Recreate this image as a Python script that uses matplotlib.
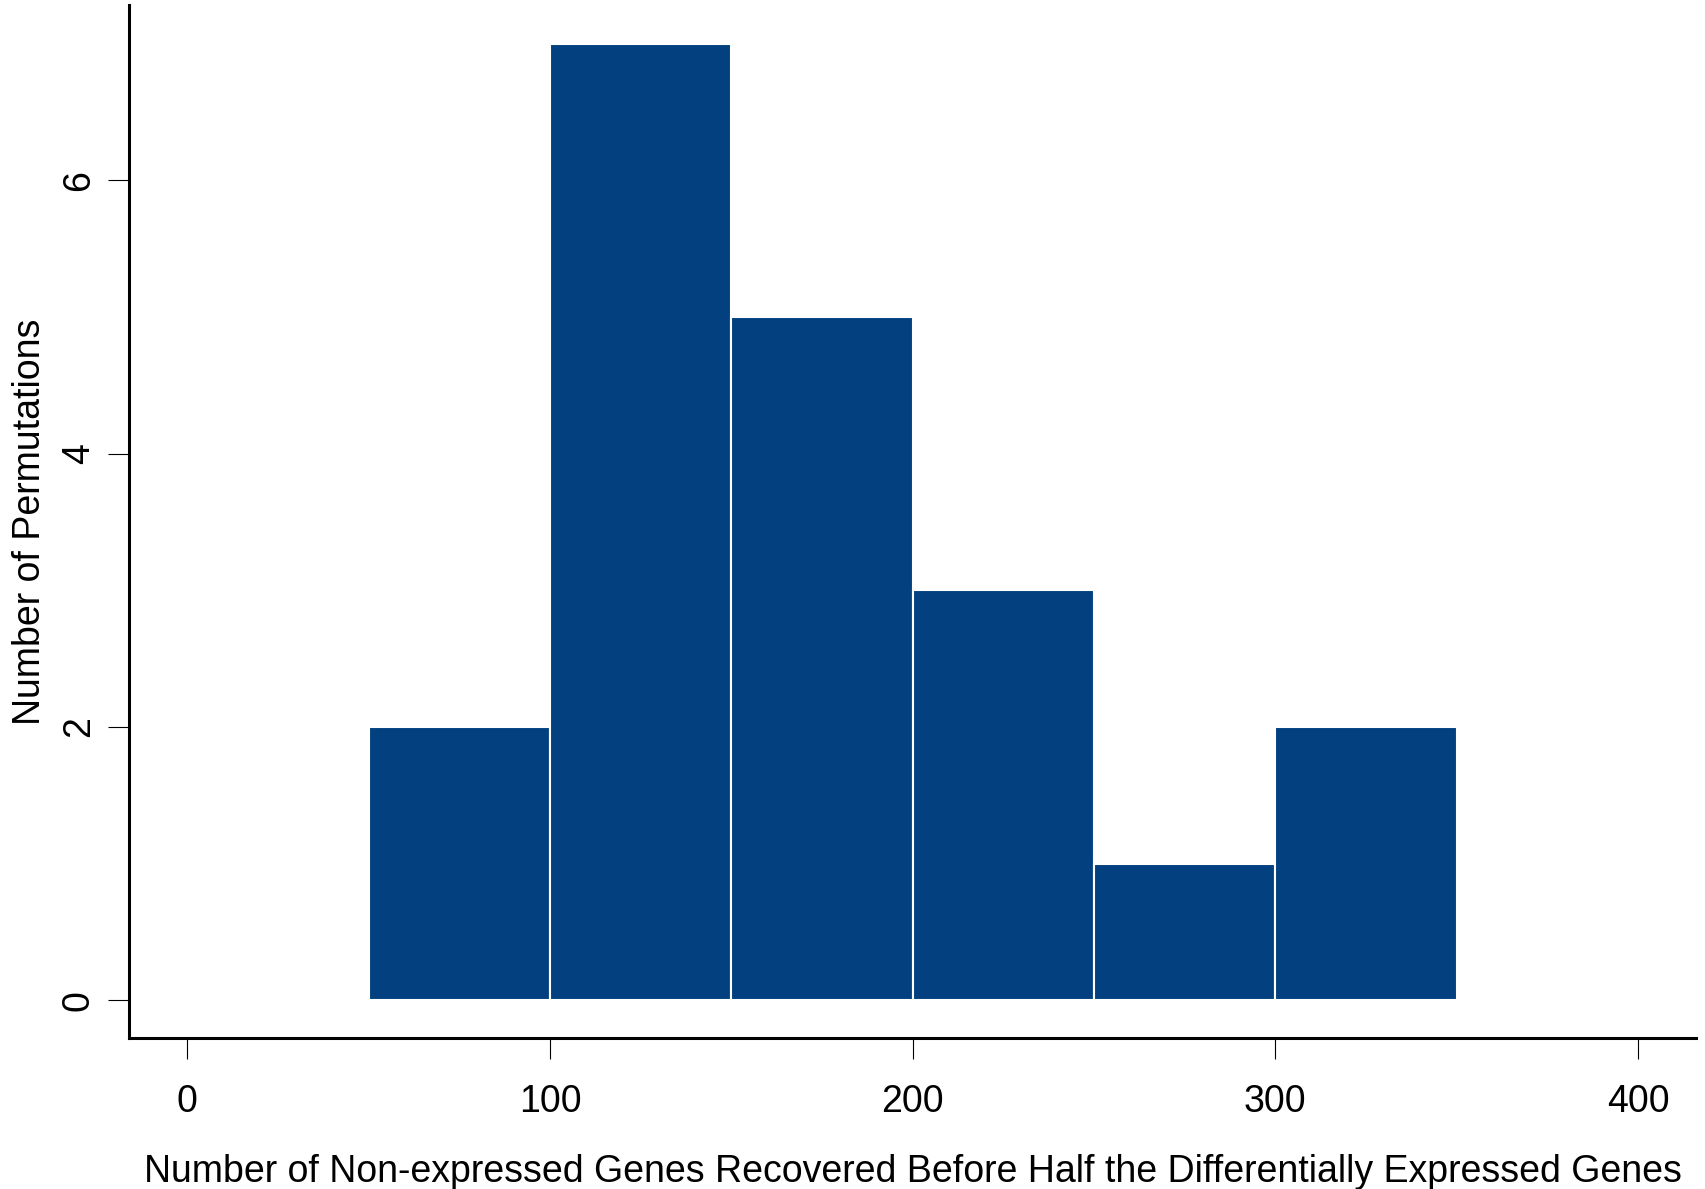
import matplotlib
matplotlib.use("Agg")
import matplotlib.pyplot as plt

# histogram data
bin_left = [50, 100, 150, 200, 250, 300]
counts = [2, 7, 5, 3, 1, 2]
bin_width = 50
x_ticks = [0, 100, 200, 300, 400]
y_ticks = [0, 2, 4, 6]

plt.rcParams['font.family'] = ['Liberation Sans', 'DejaVu Sans']

fig = plt.figure(figsize=(17.05, 11.89), dpi=100)
ax = fig.add_axes([0.0759, 0.1266, 0.9188, 0.8689])

ax.bar(bin_left, counts, width=bin_width, align='edge',
       color='#02407F', edgecolor='white', linewidth=1.5)

ax.set_xlim(-16, 416)
ax.set_ylim(-0.28, 7.28)
ax.set_xticks(x_ticks)
ax.set_yticks(y_ticks)

for s in ['top', 'right']:
    ax.spines[s].set_visible(False)
for s in ['left', 'bottom']:
    ax.spines[s].set_linewidth(2.2)

ax.tick_params(axis='x', length=15, width=0.8, pad=18, labelsize=27)
ax.tick_params(axis='y', length=15, width=0.8, pad=8.5, labelsize=27)
for lab in ax.get_yticklabels():
    lab.set_rotation(90)
    lab.set_va('center')

ax.set_xlabel('Number of Non-expressed Genes Recovered Before Half the Differentially Expressed Genes',
              fontsize=27, labelpad=24)
ax.set_ylabel('Number of Permutations', fontsize=27, labelpad=9)

fig.savefig('out.png', dpi=100)
